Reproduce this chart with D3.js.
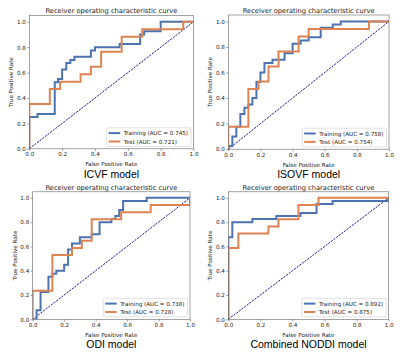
<!DOCTYPE html>
<html>
<head>
<meta charset="utf-8">
<script src="https://cdn.jsdelivr.net/npm/d3@7/dist/d3.min.js"></script>
<style>
  body { margin: 0; background: #fff; }
  svg { display: block; }
</style>
</head>
<body>
<svg id="chart" width="400" height="355"></svg>
<script>
let xTicks = [0, 0.2, 0.4, 0.6, 0.8, 1.0],
  yTicks = [0, 0.2, 0.4, 0.6, 0.8, 1.0],
  seriesNames = ["Training", "Test"],
  modelNames = ["ICVF model", "ISOVF model", "ODI model", "Combined NODDI model"],
  aucTrain = [0.745, 0.758, 0.738, 0.892],
  aucTest = [0.721, 0.754, 0.728, 0.875]

// ROC corner points
let icvfTrainFpr = [0, 0, 0.05, 0.05, 0.155, 0.155, 0.175, 0.175, 0.2, 0.2, 0.225, 0.225, 0.25, 0.25, 0.275, 0.275, 0.375, 0.375, 0.4, 0.4, 0.55, 0.55, 0.675, 0.675, 0.7, 0.7, 0.8, 0.8, 1],
  icvfTrainTpr = [0, 0.25, 0.25, 0.275, 0.275, 0.525, 0.525, 0.55, 0.55, 0.625, 0.625, 0.675, 0.675, 0.7, 0.7, 0.725, 0.725, 0.775, 0.775, 0.8, 0.8, 0.825, 0.825, 0.9, 0.9, 0.925, 0.925, 1, 1],
  icvfTestFpr = [0, 0, 0.125, 0.125, 0.1875, 0.1875, 0.3125, 0.3125, 0.375, 0.375, 0.4375, 0.4375, 0.5625, 0.5625, 0.6875, 0.6875, 0.9375, 0.9375, 1],
  icvfTestTpr = [0, 0.353, 0.353, 0.471, 0.471, 0.529, 0.529, 0.588, 0.588, 0.647, 0.647, 0.765, 0.765, 0.882, 0.882, 0.941, 0.941, 1, 1]

let isovfTrainFpr = [0, 0, 0.025, 0.025, 0.05, 0.05, 0.075, 0.075, 0.1, 0.1, 0.125, 0.125, 0.15, 0.15, 0.175, 0.175, 0.2, 0.2, 0.225, 0.225, 0.275, 0.275, 0.35, 0.35, 0.4, 0.4, 0.45, 0.45, 0.5, 0.5, 0.575, 0.575, 0.65, 0.65, 0.7, 0.7, 1],
  isovfTrainTpr = [0, 0.025, 0.025, 0.1, 0.1, 0.175, 0.175, 0.275, 0.275, 0.325, 0.325, 0.35, 0.35, 0.4, 0.4, 0.525, 0.525, 0.6, 0.6, 0.675, 0.675, 0.7, 0.7, 0.75, 0.75, 0.825, 0.825, 0.85, 0.85, 0.875, 0.875, 0.95, 0.95, 0.975, 0.975, 1, 1],
  isovfTestFpr = [0, 0, 0.125, 0.125, 0.1875, 0.1875, 0.25, 0.25, 0.3125, 0.3125, 0.4375, 0.4375, 0.5, 0.5, 0.875, 0.875, 1],
  isovfTestTpr = [0, 0.176, 0.176, 0.471, 0.471, 0.529, 0.529, 0.647, 0.647, 0.765, 0.765, 0.882, 0.882, 0.941, 0.941, 1, 1]

let odiTrainFpr = [0, 0.025, 0.025, 0.05, 0.05, 0.1, 0.1, 0.125, 0.125, 0.15, 0.15, 0.2, 0.2, 0.225, 0.225, 0.25, 0.25, 0.3, 0.3, 0.375, 0.375, 0.425, 0.425, 0.5, 0.5, 0.525, 0.525, 0.55, 0.55, 0.575, 0.575, 0.725, 0.725, 1],
  odiTrainTpr = [0, 0, 0.075, 0.075, 0.225, 0.225, 0.35, 0.35, 0.375, 0.375, 0.4, 0.4, 0.45, 0.45, 0.575, 0.575, 0.625, 0.625, 0.675, 0.675, 0.7, 0.7, 0.8, 0.8, 0.825, 0.825, 0.85, 0.85, 0.9, 0.9, 0.975, 0.975, 1, 1],
  odiTestFpr = [0, 0, 0.125, 0.125, 0.25, 0.25, 0.3125, 0.3125, 0.375, 0.375, 0.5625, 0.5625, 0.75, 0.75, 1, 1],
  odiTestTpr = [0, 0.235, 0.235, 0.529, 0.529, 0.588, 0.588, 0.647, 0.647, 0.824, 0.824, 0.882, 0.882, 0.941, 0.941, 1]

let noddiTrainFpr = [0, 0, 0.025, 0.025, 0.15, 0.15, 0.3, 0.3, 0.45, 0.45, 0.55, 0.55, 0.65, 0.65, 1, 1],
  noddiTrainTpr = [0, 0.675, 0.675, 0.8, 0.8, 0.825, 0.825, 0.85, 0.85, 0.875, 0.875, 0.95, 0.95, 0.975, 0.975, 1],
  noddiTestFpr = [0, 0, 0.0625, 0.0625, 0.25, 0.25, 0.3125, 0.3125, 0.4375, 0.4375, 0.5625, 0.5625, 1],
  noddiTestTpr = [0, 0.588, 0.588, 0.706, 0.706, 0.765, 0.765, 0.824, 0.824, 0.941, 0.941, 1, 1]

let colors = ["#4c72b0", "#dd8452"],
  mplFont = "'DejaVu Sans', sans-serif",
  captionFont = "'Liberation Sans', Arial, sans-serif"

// axes boxes of the four sub-figures
let panels = [
  { left: 29.3, right: 193.5, top: 15.5, bottom: 148.8 },
  { left: 228.3, right: 389, top: 15, bottom: 149.2 },
  { left: 32.7, right: 190, top: 191.8, bottom: 319.3 },
  { left: 228.3, right: 388.7, top: 191.8, bottom: 319.3 }
]

let curves = [
  [[icvfTrainFpr, icvfTrainTpr], [icvfTestFpr, icvfTestTpr]],
  [[isovfTrainFpr, isovfTrainTpr], [isovfTestFpr, isovfTestTpr]],
  [[odiTrainFpr, odiTrainTpr], [odiTestFpr, odiTestTpr]],
  [[noddiTrainFpr, noddiTrainTpr], [noddiTestFpr, noddiTestTpr]]
]

let svg = d3.select("#chart")

// no d3-selection-multi here, so a small stand-in
function setAttrs(sel, o) {
  for (let k in o) sel.attr(k, o[k])
  return sel
}

function drawPanel(p, i) {
  let x = d3.scaleLinear().domain([0, 1]).range([p.left, p.right]),
    y = d3.scaleLinear().domain([0, 1.05]).range([p.bottom, p.top])
  let g = svg.append("g")

  setAttrs(g.append("clipPath").attr("id", "clip" + i).append("rect"),
    { x: p.left, y: p.top, width: p.right - p.left, height: p.bottom - p.top })

  // diagonal
  setAttrs(g.append("line"), {
    x1: x(0), y1: y(0), x2: x(1), y2: y(1),
    stroke: "#000080", "stroke-width": 0.9, "stroke-dasharray": "2.2,1.1"
  })

  let line = d3.line()
    .x(d => x(d[0]))
    .y(d => y(d[1]))

  curves[i].forEach((c, k) => {
    let pts = c[0].map((f, j) => [f, c[1][j]])
    g.append("path")
      .datum(pts)
      .attr("d", line)
      .attr("clip-path", "url(#clip" + i + ")")
      .attr("fill", "none")
      .attr("stroke", colors[k])
      .attr("stroke-width", 2)
  })

  // axes
  let xAxis = d3.axisBottom(x).tickValues(xTicks).tickFormat(d3.format(".1f")).tickSize(2).tickPadding(1.5),
    yAxis = d3.axisLeft(y).tickValues(yTicks).tickFormat(d3.format(".1f")).tickSize(2).tickPadding(1.5)

  let gx = g.append("g").attr("transform", `translate(0,${p.bottom})`).call(xAxis),
    gy = g.append("g").attr("transform", `translate(${p.left},0)`).call(yAxis)
  for (let a of [gx, gy]) {
    a.select(".domain").remove()
    a.selectAll("line").attr("stroke", "#555").attr("stroke-width", 0.6)
    a.selectAll("text").attr("fill", "#222").style("font", `5.6px ${mplFont}`)
  }

  setAttrs(g.append("rect"), {
    x: p.left, y: p.top, width: p.right - p.left, height: p.bottom - p.top,
    fill: "none", stroke: "#666", "stroke-width": 0.6
  })

  let cx = (p.left + p.right) / 2
  setAttrs(g.append("text"), { x: cx, y: p.top - 2.2, "text-anchor": "middle", fill: "#222" })
    .style("font", `6.7px ${mplFont}`)
    .text("Receiver operating characteristic curve")

  setAttrs(g.append("text"), { x: cx, y: p.bottom + 17.5, "text-anchor": "middle", fill: "#222" })
    .style("font", `5.6px ${mplFont}`)
    .text("False Positive Rate")

  setAttrs(g.append("text"), {
    transform: `translate(${p.left - 18},${(p.top + p.bottom) / 2}) rotate(-90)`,
    "text-anchor": "middle", "dominant-baseline": "central", fill: "#222"
  })
    .style("font", `5.6px ${mplFont}`)
    .text("True Positive Rate")

  setAttrs(g.append("text"), { x: cx, y: p.bottom + 29, "text-anchor": "middle", fill: "#000" })
    .style("font", `10.5px ${captionFont}`)
    .text(modelNames[i])

  // legend, lower right
  let labels = [
    `${seriesNames[0]} (AUC = ${aucTrain[i].toFixed(3)})`,
    `${seriesNames[1]} (AUC = ${aucTest[i].toFixed(3)})`
  ]
  let leg = g.append("g"),
    box = leg.append("rect")
  let texts = labels.map(l => leg.append("text")
    .attr("fill", "#222")
    .style("font", `5.6px ${mplFont}`)
    .text(l))
  let tw = d3.max(texts, t => t.node().getComputedTextLength()),
    bw = tw + 20,
    bh = 18.5,
    bx = p.right - 2.5 - bw,
    by = p.bottom - 2.5 - bh
  setAttrs(box, { x: bx, y: by, width: bw, height: bh, rx: 1.2, fill: "#fff", "fill-opacity": 0.8, stroke: "#ccc", "stroke-width": 0.6 })
  texts.forEach((t, k) => {
    let ry = by + 5.3 + k * 8.4
    setAttrs(leg.append("line"), { x1: bx + 2, x2: bx + 13.5, y1: ry, y2: ry, stroke: colors[k], "stroke-width": 2 })
    setAttrs(t, { x: bx + 17, y: ry, "dominant-baseline": "central" })
  })
}

panels.forEach(drawPanel)
</script>
</body>
</html>
